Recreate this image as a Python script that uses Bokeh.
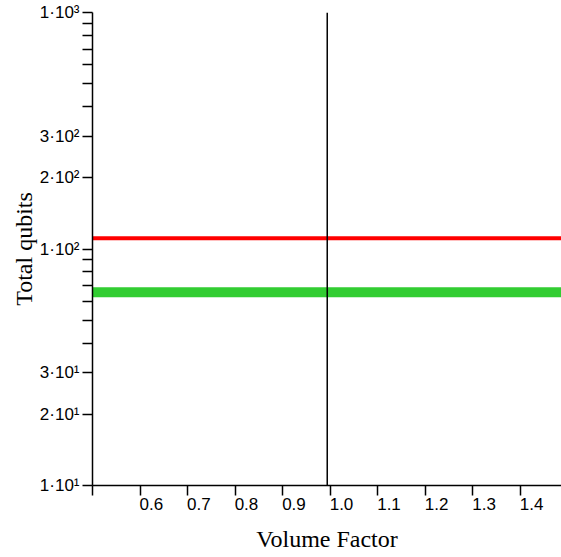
from bokeh.plotting import figure
from bokeh.models import Range1d, FixedTicker, Span, LinearAxis
from bokeh.embed import file_html
from bokeh.resources import INLINE

# ---- data ----
volume_factor_span = [0.4, 1.6]
red_total_qubits = [111, 111]
green_total_qubits = [65.7, 65.7]
vline_volume_factor = 0.994

x_ticks = [0.5, 0.6, 0.7, 0.8, 0.9, 1.0, 1.1, 1.2, 1.3, 1.4]
x_label_ticks = [0.6, 0.7, 0.8, 0.9, 1.0, 1.1, 1.2, 1.3, 1.4]
x_tick_labels = ["0.6", "0.7", "0.8", "0.9", "1.0", "1.1", "1.2", "1.3", "1.4"]

y_ticks = [10, 20, 30, 40, 50, 60, 70, 80, 90,
           100, 200, 300, 400, 500, 600, 700, 800, 900, 1000]
y_tick_labels = ["1·10¹", "2·10¹", "3·10¹", "", "", "", "", "", "",
                 "1·10²", "2·10²", "3·10²", "", "", "", "", "", "",
                 "1·10³"]

x_start, x_end = 0.5, 1.487
y_start, y_end = 10, 1000
label_shift = 0.024  # tick labels sit just to the right of their ticks

p = figure(width=561, height=557,
           x_range=Range1d(x_start, x_end), y_range=Range1d(y_start, y_end),
           y_axis_type="log", output_backend="svg", toolbar_location=None,
           min_border_left=92, min_border_right=0, min_border_top=12,
           min_border_bottom=72)
p.background_fill_color = "white"
p.border_fill_color = "white"
p.outline_line_color = None
p.grid.visible = False

# y axis
ya = p.yaxis[0]
ya.ticker = FixedTicker(ticks=y_ticks)
ya.major_label_overrides = {t: l for t, l in zip(y_ticks, y_tick_labels)}
ya.major_tick_out = 10
ya.major_tick_in = 0
ya.minor_tick_line_color = None
ya.axis_line_width = 1.5
ya.major_tick_line_width = 1.5
ya.axis_line_color = "black"
ya.major_tick_line_color = "black"
ya.major_label_standoff = 3
ya.major_label_text_font = "Liberation Sans"
ya.major_label_text_font_size = "17px"
ya.major_label_text_color = "black"
ya.axis_label = "Total qubits"
ya.axis_label_text_font = "Liberation Serif"
ya.axis_label_text_font_size = "24px"
ya.axis_label_text_font_style = "normal"
ya.axis_label_text_color = "black"
ya.axis_label_standoff = 0

# x axis: ticks only
xa = p.xaxis[0]
xa.ticker = FixedTicker(ticks=x_ticks)
xa.major_tick_out = 10
xa.major_tick_in = 0
xa.minor_tick_line_color = None
xa.axis_line_width = 1.5
xa.major_tick_line_width = 1.5
xa.axis_line_color = "black"
xa.major_tick_line_color = "black"
xa.major_label_standoff = 0
xa.major_label_text_color = None

# x axis: labels (offset right of ticks) + title
p.extra_x_ranges = {"lab": Range1d(x_start - label_shift, x_end - label_shift)}
xl = LinearAxis(x_range_name="lab", ticker=FixedTicker(ticks=x_label_ticks))
xl.major_label_overrides = {t: l for t, l in zip(x_label_ticks, x_tick_labels)}
xl.axis_line_color = None
xl.major_tick_line_color = None
xl.minor_tick_line_color = None
xl.major_tick_out = 0
xl.major_tick_in = 0
xl.major_label_standoff = 2
xl.major_label_text_font = "Liberation Sans"
xl.major_label_text_font_size = "17px"
xl.major_label_text_color = "black"
xl.axis_label = "Volume Factor"
xl.axis_label_text_font = "Liberation Serif"
xl.axis_label_text_font_size = "24px"
xl.axis_label_text_font_style = "normal"
xl.axis_label_text_color = "black"
xl.axis_label_standoff = 13
p.add_layout(xl, "below")

# data lines
p.line(volume_factor_span, red_total_qubits, line_color="#ff0000", line_width=4)
p.line(volume_factor_span, green_total_qubits, line_color="#32cd32", line_width=10)
p.add_layout(Span(location=vline_volume_factor, dimension="height",
                  line_color="black", line_width=1.5))

open("out.html", "w").write(file_html(p, INLINE))
